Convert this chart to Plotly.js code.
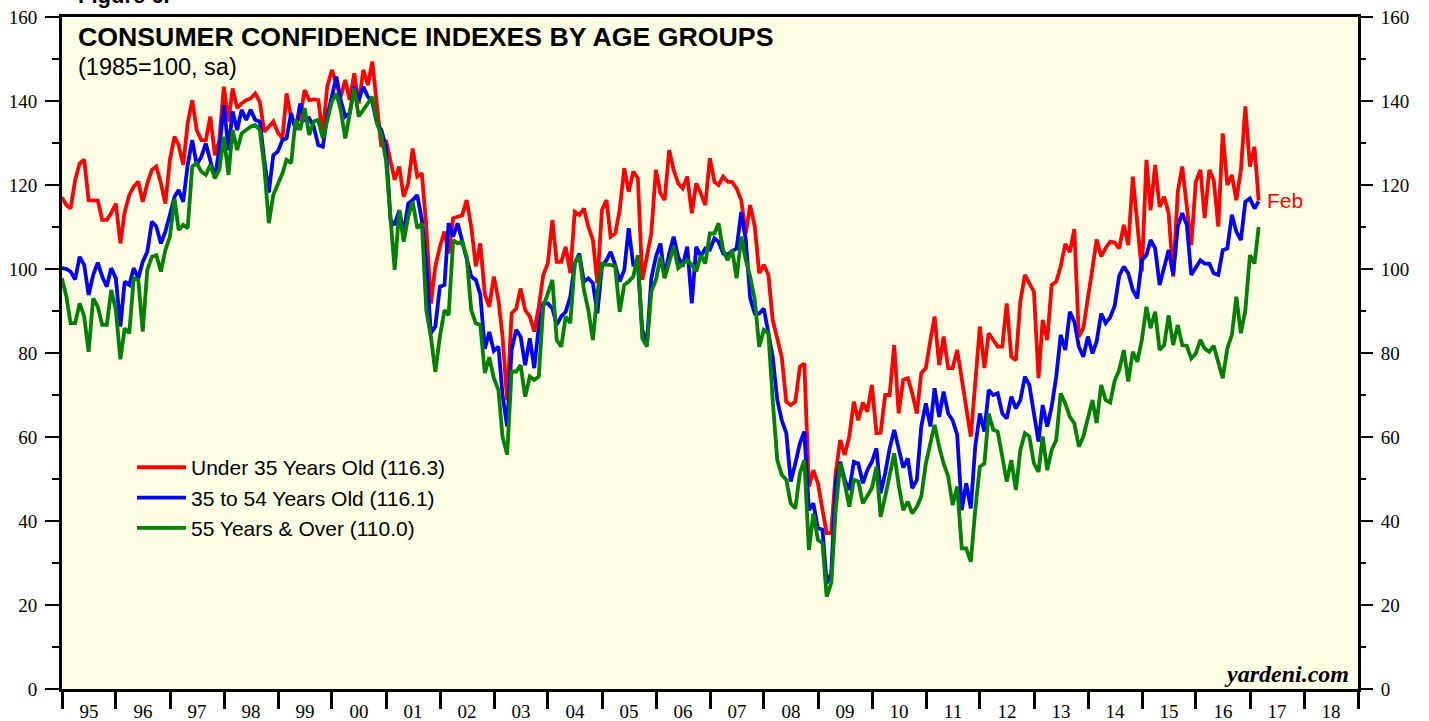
<!DOCTYPE html>
<html>
<head>
<meta charset="utf-8">
<script src="https://cdn.plot.ly/plotly-3.0.1.min.js"></script>
<style>
html,body{margin:0;padding:0;background:#ffffff;}
#chart{width:1429px;height:721px;}
</style>
</head>
<body>
<div id="chart"></div>
<script>
// Monthly values, Dec 1994 .. Feb 2017 (1985=100, sa)
const firstYear = 1994, firstMonth = 12;

const under35 = [
  117,
  115.2,114.4,121.2,125.1,126,116.4,116.4,116.3,111.7,111.7,113.3,115.6,
  106.1,113.6,117.6,119.6,120.8,116,120.4,123.6,124.4,120.4,115.6,126,
  131.5,129.5,124.8,134.7,140.2,133.1,130.7,130.7,136.3,127.1,130.7,143.4,
  135.1,143,138.3,139.4,140.2,140.6,141.8,139.8,132.7,133.9,135.1,132.5,
  131.1,141.8,135.9,134.7,136.1,142.6,140.2,140.4,140.2,132.3,143.4,147.4,
  144.2,141,145,140.2,146.6,139.4,147.4,143.8,149.4,139,129.1,130.7,
  126,121.2,124.4,117.2,120.4,128.7,122,122.8,110.1,91.8,100.6,105.3,
  108.9,103.7,112.1,112.4,112.8,116.4,110.1,100.6,106.1,94,91,98.2,
  92.6,83.9,68.8,89.4,90.6,95.4,90.2,88.7,85.1,91,98.6,101.3,
  111.7,101.7,101.7,105.3,99,113.6,112.9,114.4,110.1,106.9,96.6,114,
  116.4,107.7,108.5,114,124,118.4,123.2,121.6,97.4,102.9,108.5,123.6,
  118,116.4,128.3,123.6,120.4,119.2,122,113.3,120.4,118,115.2,126.4,
  120.8,120,122,120.8,120.7,119.2,116.4,108.5,115.2,110.1,99,101,
  98.6,87.9,83.1,79.1,68.4,67.6,68.4,76.7,77.5,48.2,52.1,49,
  42.6,37.1,37.2,51.4,59.3,55.7,60.1,68.4,64,68.2,66,72.4,
  60.9,61,70,70,81.9,65.6,73.6,74,70.4,65.6,75.2,76.4,
  83.1,88.7,77.1,83.9,76.4,76.4,80.7,73.6,67.2,60.1,72.8,86.3,
  76.4,84.7,83.1,81.5,81.5,91.8,79.1,78.3,92.2,98.6,96.6,94.6,
  74,87.9,83.1,96.2,97,100.6,106,104,109.5,83.9,85.9,92.6,
  100.2,107,103,105,106.5,106.3,104.9,110.5,105.7,122,110.9,99.4,
  126,114,124.8,114.8,117.2,113.3,98.2,118.4,124.4,114,105.7,120.8,
  123.6,112.1,123.6,121.2,110.1,132.3,120,122.4,116.4,123.6,138.7,124.4,
  129.1,116.3
];

const age35to54 = [
  100.2,
  100,99.4,97.5,102.9,101,93.8,98.6,101.5,98.2,95.8,100.2,97.8,
  86.3,97,96.2,100.2,97.8,101.7,104.1,111.3,110.1,106.1,108.9,112.9,
  117.2,118.8,116,124.8,130.7,124.8,126.7,129.9,126,121.6,128.7,139,
  128.3,137.5,133.1,137.9,135.5,137.9,135.5,135.1,126,118.2,127.1,128,
  130.7,131.1,137.1,133.1,139.4,135.5,135.9,133.9,129.5,129.1,136.3,141,
  145.8,140.2,136.3,137.1,143.4,140.2,143.4,141,139.8,134.7,133.1,129.1,
  111.7,110.5,114,108.5,115.6,116.4,117.6,111.7,101.3,84.7,86.3,95.8,
  96.2,110.9,107.7,110.9,106.9,102.9,98.2,97.4,94,81,85,80.5,
  81.5,70,62.5,80.7,85.5,83.9,77.1,83.5,76.4,86.3,91.8,91.8,
  90.6,86.7,88.7,89.8,93.4,101.3,103.7,97,97.8,96.6,89.4,100.6,
  102.1,104.1,101,97,99.8,109.7,101,101,85.5,82.3,97.8,102.9,
  106.1,98.2,103.7,107.7,102.9,100.6,105.3,91.8,105.3,103,104.9,104.6,
  107.3,106.5,103.7,103.5,104.2,104.9,113.6,107,93,89.4,89.4,90.6,
  84.7,79.1,68.8,64,60.9,49.4,53.7,58.5,61.3,42.6,44.2,38.3,
  37.9,25.2,27.5,49,54.1,49.8,47.4,54.1,53.7,49,52.1,54.1,
  57.3,46.6,51.4,57.3,61.7,56.9,52.7,54.9,47.8,49.8,62.5,68,
  62.5,71.6,64.8,70.8,65.6,64,60.5,42.6,49,43,57.7,65.6,
  61.3,71.2,70,70.4,65.6,64.4,69.6,66.8,68.8,74.4,72.4,65.6,
  58.9,67.6,62.5,67.2,74.4,84.3,80.7,89.8,87.5,81.5,79.1,83.9,
  79.9,82.7,89.4,87.1,88.5,91.2,98.4,100.6,99,95,93,102.1,
  103.3,106.9,104.9,96.2,100.6,104.5,98.6,110.1,113.3,110.5,98.6,100.2,
  102.1,101.3,101.3,99,98.6,104.5,104.9,112.9,108.9,106.9,116,116.8,
  114.4,116.1
];

const over55 = [
  97.8,
  93.4,87.1,87.1,91.8,88.7,80.3,93,91,86.7,86.7,95,90.2,
  78.5,85.9,84.7,97.8,97.4,85.1,99.8,102.9,103.3,99.4,104.5,107.7,
  116.8,109.3,110.5,109.7,124.4,125.2,123.2,122.4,124.8,121.6,123.6,131.5,
  122.4,133.1,128.3,132.3,133.1,133.9,134.3,133.1,124.4,110.9,117.6,120.4,
  122.8,126,125.2,135.5,133.1,138.3,131.9,135.1,135.5,131.1,135.1,139.8,
  141.8,137.9,131.1,137.1,143,136.3,137.9,139.4,141,134.7,131.9,126,
  111.7,99.8,114,106.5,112.5,116,109.7,110.9,90.2,83.9,75.5,83.9,
  90.2,89,106.9,106.1,106.5,102.9,90.2,87.1,86.7,75.2,79,74,
  71.2,60,55.8,75.6,75.6,77.1,69.6,74.4,73.6,74.4,91,94.2,
  97.4,83.1,81.5,88.7,87.1,101.3,103.3,95,90.2,83.1,94.2,101.3,
  101,101,100.6,89.8,96.2,97,98.2,103.3,83.5,81.5,94.6,97.4,
  102.9,97.8,101.3,105.3,100.2,101,102.1,101,99.4,103.3,101.3,108.5,
  108.5,110.9,104.5,102.1,104.5,97.8,107.7,102.1,98.2,92.6,81.5,85.5,
  84.7,68.8,54.5,51,49.8,44.2,43,51.4,54.5,33.1,41.8,35.5,
  34.7,22,25.2,42.6,53.7,49,43.4,49.8,49.4,44.2,46.2,47.8,
  52.9,41,45.8,51.4,56.1,48.6,42.6,44.6,41.8,43.4,45.8,53.7,
  58.5,62.9,57.7,53.7,50.6,43.8,48.2,33.5,33.5,30.3,42.6,52.9,
  53.7,65.6,61.7,61.3,55.3,49.4,54.5,47.4,56.9,60.9,60.1,53.7,
  51.7,60.1,52.1,56.9,59.3,70.4,68,64.8,63.3,57.7,60.1,64.8,
  68.8,63.3,72.4,68.8,68.2,73.4,76,80.7,73.2,80.3,77.9,83.1,
  91,85.9,89.8,80.7,81.9,89,81.9,86.7,81.9,81.7,78.7,79.9,
  83.1,81.1,80.3,81.7,77.5,74,81.1,84.3,93.4,84.7,90.2,103.3,
  101.3,110.0
];

const seriesNames = [
  'Under 35 Years Old (116.3)',
  '35 to 54 Years Old (116.1)',
  '55 Years & Over (110.0)'
];
const seriesColors = ['#ff0000', '#0000ff', '#008000'];
const lastLabel = 'Feb';

// Month-end dates for each observation
const dates = under35.map((_, i) => {
  const d = new Date(Date.UTC(firstYear, firstMonth - 1 + i + 1, 0));
  return d.toISOString().slice(0, 10);
});

const seriesValues = [under35, age35to54, over55];
const traces = seriesValues.map((vals, k) => ({
  type: 'scatter',
  mode: 'lines',
  x: dates,
  y: vals,
  name: seriesNames[k],
  line: {color: seriesColors[k], width: 3.8},
  hoverinfo: 'skip'
}));

// carrier traces (draw nothing) so that the year-label axis and the right-hand axis are rendered
traces.push({type: 'scatter', mode: 'lines', x: [dates[0]], y: [over55[0]], xaxis: 'x2', yaxis: 'y',
  showlegend: false, hoverinfo: 'skip', line: {width: 0}});
traces.push({type: 'scatter', mode: 'lines', x: [dates[0]], y: [over55[0]], xaxis: 'x', yaxis: 'y2',
  showlegend: false, hoverinfo: 'skip', line: {width: 0}});

const serif = 'Liberation Serif, Times New Roman, serif';
const sans = 'Liberation Sans, Arial, Helvetica, sans-serif';

const yCommon = {
  range: [0, 160],
  tick0: 0,
  dtick: 20,
  ticks: 'outside',
  ticklen: 14,
  tickwidth: 2,
  tickcolor: '#000',
  showgrid: false,
  zeroline: false,
  tickfont: {family: serif, size: 19, color: '#000'},
  ticklabelstandoff: 4,
  minor: {tick0: 0, dtick: 10, ticks: 'outside', ticklen: 7, tickwidth: 2, tickcolor: '#000', showgrid: false},
  fixedrange: true
};

const layout = {
  width: 1429,
  height: 721,
  margin: {l: 62, r: 71, t: 17, b: 32, pad: 0},
  paper_bgcolor: '#ffffff',
  plot_bgcolor: '#ffffe6',
  showlegend: true,
  legend: {
    x: 0.054, y: 0.360, xanchor: 'left', yanchor: 'top',
    bgcolor: 'rgba(0,0,0,0)',
    font: {family: sans, size: 21, color: '#000'},
    itemwidth: 49,
    tracegroupgap: 0
  },
  xaxis: {
    type: 'date',
    range: ['1995-01-01', '2019-01-01'],
    tick0: '1995-01-01',
    dtick: 'M12',
    ticks: 'outside',
    ticklen: 17,
    tickwidth: 3,
    tickcolor: '#000',
    showticklabels: false,
    showgrid: false,
    zeroline: false,
    showline: true,
    linewidth: 3,
    linecolor: '#000',
    mirror: true,
    fixedrange: true
  },
  xaxis2: {
    type: 'date',
    overlaying: 'x',
    anchor: 'y',
    side: 'bottom',
    range: ['1995-01-01', '2019-01-01'],
    tick0: '1995-01-01',
    dtick: 'M12',
    ticklabelmode: 'period',
    tickformat: '%y',
    ticks: '',
    showgrid: false,
    zeroline: false,
    showline: false,
    tickfont: {family: serif, size: 19, color: '#000'},
    ticklabelstandoff: 9,
    fixedrange: true
  },
  yaxis: Object.assign({}, yCommon, {
    side: 'left',
    showline: true,
    linewidth: 3,
    linecolor: '#000',
    mirror: true
  }),
  yaxis2: Object.assign({}, yCommon, {
    side: 'right',
    overlaying: 'y',
    anchor: 'x',
    showline: false
  }),
  annotations: [
    {
      xref: 'paper', yref: 'paper', x: 0.0108, y: 0.9702,
      xanchor: 'left', yanchor: 'middle', showarrow: false,
      text: '<b>CONSUMER CONFIDENCE INDEXES BY AGE GROUPS</b>',
      font: {family: sans, size: 26.7, color: '#000'}
    },
    {
      xref: 'paper', yref: 'paper', x: 0.0108, y: 0.9256,
      xanchor: 'left', yanchor: 'middle', showarrow: false,
      text: '(1985=100, sa)',
      font: {family: sans, size: 23.5, color: '#000'}
    },
    {
      xref: 'paper', yref: 'paper', x: 0.0108, y: 1.0105,
      xanchor: 'left', yanchor: 'bottom', showarrow: false,
      text: '<b>Figure 6.</b>',
      font: {family: sans, size: 22, color: '#000'}
    },
    {
      xref: 'paper', yref: 'paper', x: 0.9946, y: 0.0223,
      xanchor: 'right', yanchor: 'middle', showarrow: false,
      text: '<b><i>yardeni.com</i></b>',
      font: {family: serif, size: 24, color: '#000'}
    },
    {
      xref: 'x', yref: 'y',
      x: dates[dates.length - 1], y: under35[under35.length - 1],
      xanchor: 'left', yanchor: 'middle', xshift: 6, showarrow: false,
      text: lastLabel,
      font: {family: sans, size: 21, color: '#ff0000'}
    }
  ]
};

Plotly.newPlot('chart', traces, layout, {displayModeBar: false, staticPlot: true});
</script>
</body>
</html>
